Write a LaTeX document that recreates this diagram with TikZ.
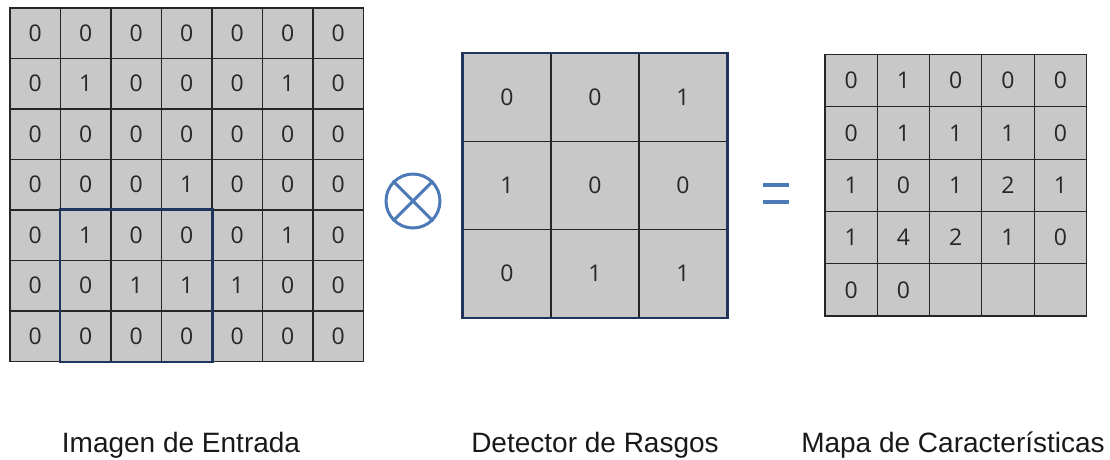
\documentclass[tikz,border=0pt]{standalone}
\usepackage{fontspec}
\usepackage{tikz}
\usetikzlibrary{positioning}
\setmainfont{Liberation Sans}
\newfontfamily\digitfont{Open Sans}
\definecolor{cellgray}{RGB}{200,200,200}
\definecolor{opblue}{RGB}{76,122,182}
\definecolor{framenavy}{RGB}{32,52,92}

\begin{document}
\begin{tikzpicture}[
    x=1pt, y=-1pt,
    cell/.style={draw=black!85, fill=cellgray, line width=1.1pt, inner sep=0pt, text=black!85, font=\digitfont\fontsize{23}{27}\selectfont},
    caption/.style={anchor=base, text=black!90, font=\fontsize{28}{32}\selectfont},
    frame/.style={draw=framenavy, line width=2.2pt}
]
    \useasboundingbox (0,0) rectangle (1110,459);

    % Input image 7x7
    \foreach \row [count=\r from 0] in {{0,0,0,0,0,0,0},{0,1,0,0,0,1,0},{0,0,0,0,0,0,0},{0,0,0,1,0,0,0},{0,1,0,0,0,1,0},{0,0,1,1,1,0,0},{0,0,0,0,0,0,0}} {
        \foreach \v [count=\c from 0] in \row {
            \node[cell, minimum size=50.5pt] (in-\r-\c) at ({10+50.5*(\c+0.5)}, {8+50.5*(\r+0.5)}) {\v};
        }
    }
    \draw[frame] (in-4-1.north west) rectangle (in-6-3.south east);

    % Operator
    \node[draw=opblue, line width=3pt, circle, minimum size=54pt, inner sep=0pt] (conv) at (413,201) {};
    \draw[opblue, line width=3pt] (conv.45) -- (conv.225);
    \draw[opblue, line width=3pt] (conv.135) -- (conv.315);

    % Feature detector 3x3
    \foreach \row [count=\r from 0] in {{0,0,1},{1,0,0},{0,1,1}} {
        \foreach \v [count=\c from 0] in \row {
            \node[cell, minimum size=88pt] (det-\r-\c) at ({463+88*(\c+0.5)}, {53.5+88*(\r+0.5)}) {\v};
        }
    }
    \draw[frame, line width=2.6pt] (det-0-0.north west) rectangle (det-2-2.south east);

    % Equals
    \draw[opblue, line width=3.5pt] (763,185) -- (789,185);
    \draw[opblue, line width=3.5pt] (763,202) -- (789,202);

    % Feature map 5x5
    \foreach \row [count=\r from 0] in {{0,1,0,0,0},{0,1,1,1,0},{1,0,1,2,1},{1,4,2,1,0},{0,0,{},{},{}}} {
        \foreach \v [count=\c from 0] in \row {
            \node[cell, minimum size=52.3pt] (map-\r-\c) at ({825+52.3*(\c+0.5)}, {54.5+52.3*(\r+0.5)}) {\v};
        }
    }

    % Captions
    \node[caption] (inlabel) at (181,452) {Imagen de Entrada};
    \node[caption] (detlabel) at (595,452) {Detector de Rasgos};
    \node[caption] (maplabel) at (953,452) {Mapa de Características};
\end{tikzpicture}
\end{document}
